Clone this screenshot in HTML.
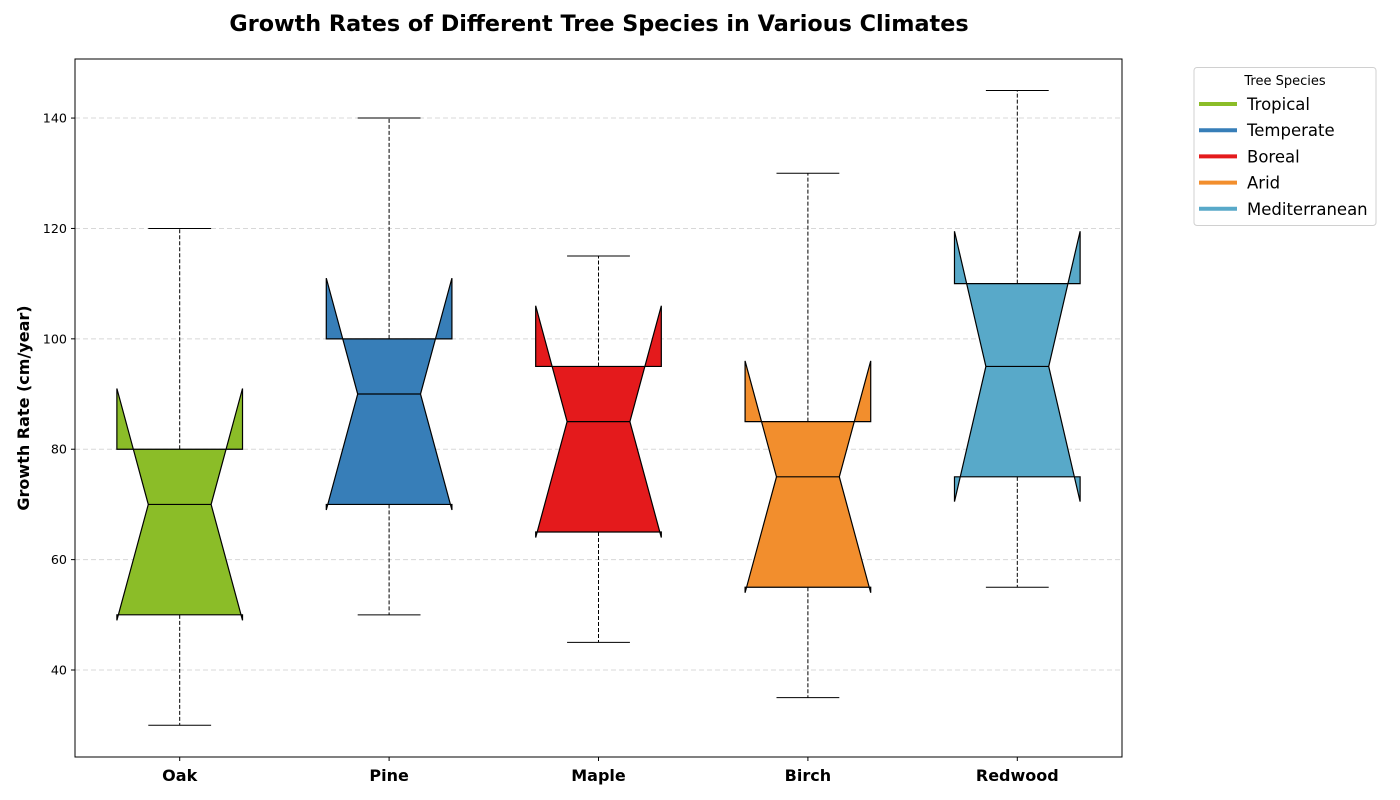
<!DOCTYPE html>
<html><head><meta charset="utf-8"><style>
body{margin:0;background:#fff;}
svg{display:block;font-family:"DejaVu Sans","Liberation Sans",sans-serif;}
</style></head><body>
<svg id="chart" width="1400" height="800">
<text x="599" y="31" text-anchor="middle" font-size="22.3" font-weight="bold">Growth Rates of Different Tree Species in Various Climates</text>
<text transform="translate(29,408) rotate(-90)" text-anchor="middle" font-size="16" font-weight="bold">Growth Rate (cm/year)</text>
<g id="grid"></g><g id="boxes"></g><g id="axes"></g>
<g>
<rect x="1194" y="67.5" width="182" height="158" rx="3" fill="#fff" stroke="#d0d0d0"/>
<text x="1285" y="85" text-anchor="middle" font-size="13">Tree Species</text>
<g id="legend"></g>
</g>
</svg>
<script>
const species=["Oak","Pine","Maple","Birch","Redwood"];
const climates=["Tropical","Temperate","Boreal","Arid","Mediterranean"];
const colors=["#8bbd28","#377eb8","#e41a1c","#f28e2d","#58a9c9"];
const whiskLo=[30,50,45,35,55];
const q1=[50,70,65,55,75];
const med=[70,90,85,75,95];
const q3=[80,100,95,85,110];
const whiskHi=[120,140,115,130,145];
const notchLo=[49,69,64,54,70.5];
const notchHi=[91,111,106,96,119.5];
const yTicks=[40,60,80,100,120,140];

const L=75,R=1122,T=59,B=757;
const yMin=24.24,yMax=150.7;
const NS="http://www.w3.org/2000/svg";
const y=v=>B-(v-yMin)/(yMax-yMin)*(B-T);
const x=i=>L+(i+0.5)*(R-L)/species.length;
const bw=(R-L)/species.length*0.6;
function mk(tag,attrs,parent){const e=document.createElementNS(NS,tag);for(const k in attrs)e.setAttribute(k,attrs[k]);parent.appendChild(e);return e;}
const grid=document.getElementById('grid'),axes=document.getElementById('axes'),boxes=document.getElementById('boxes'),leg=document.getElementById('legend');
yTicks.forEach(t=>{
 const g=mk('line',{x1:L,x2:R,y1:y(t),y2:y(t),stroke:'#d8d8d8','stroke-dasharray':'5,3'},grid);
 
 
 const tk=mk('line',{x1:L-4,x2:L,y1:y(t),y2:y(t),stroke:'#000'},axes);
 
 
 const lb=mk('text',{x:L-8,y:y(t)+4.5,'text-anchor':'end','font-size':12.7},axes);
 lb.textContent=t;
 
 
});
mk('rect',{x:L,y:T,width:R-L,height:B-T,fill:'none',stroke:'#000'},axes);
species.forEach((s,i)=>{
 const cx=x(i),l=cx-bw/2,r=cx+bw/2,il=cx-bw/4,ir=cx+bw/4;
 const g=mk('g',{},boxes);
 
 
 [[q3[i],whiskHi[i]],[q1[i],whiskLo[i]]].forEach(([a,b])=>{
  mk('line',{x1:cx,x2:cx,y1:y(a),y2:y(b),stroke:'#000','stroke-dasharray':'4,2'},g);
  mk('line',{x1:il,x2:ir,y1:y(b),y2:y(b),stroke:'#000'},g);
 });
 const pts=[[l,q1[i]],[l,notchLo[i]],[il,med[i]],[l,notchHi[i]],[l,q3[i]],[r,q3[i]],[r,notchHi[i]],[ir,med[i]],[r,notchLo[i]],[r,q1[i]]];
 mk('polygon',{points:pts.map(p=>p[0]+','+y(p[1])).join(' '),fill:colors[i],stroke:'#000','stroke-width':1.2},g);
 mk('line',{x1:il,x2:ir,y1:y(med[i]),y2:y(med[i]),stroke:'#000','stroke-width':1.2},g);
 const xl=mk('text',{x:cx,y:781,'text-anchor':'middle','font-size':16,'font-weight':'bold'},axes);
 xl.textContent=s;
 
 
 mk('line',{x1:cx,x2:cx,y1:B,y2:B+4,stroke:'#000'},axes);
});
climates.forEach((c,i)=>{
 const yy=104+i*26.2;
 const g=mk('g',{},leg);
 
 
 mk('line',{x1:1199,x2:1237,y1:yy,y2:yy,stroke:colors[i],'stroke-width':4},g);
 const t=mk('text',{x:1247,y:yy+6,'font-size':16.5},g);
 t.textContent=c;
});
</script>
</body></html>
